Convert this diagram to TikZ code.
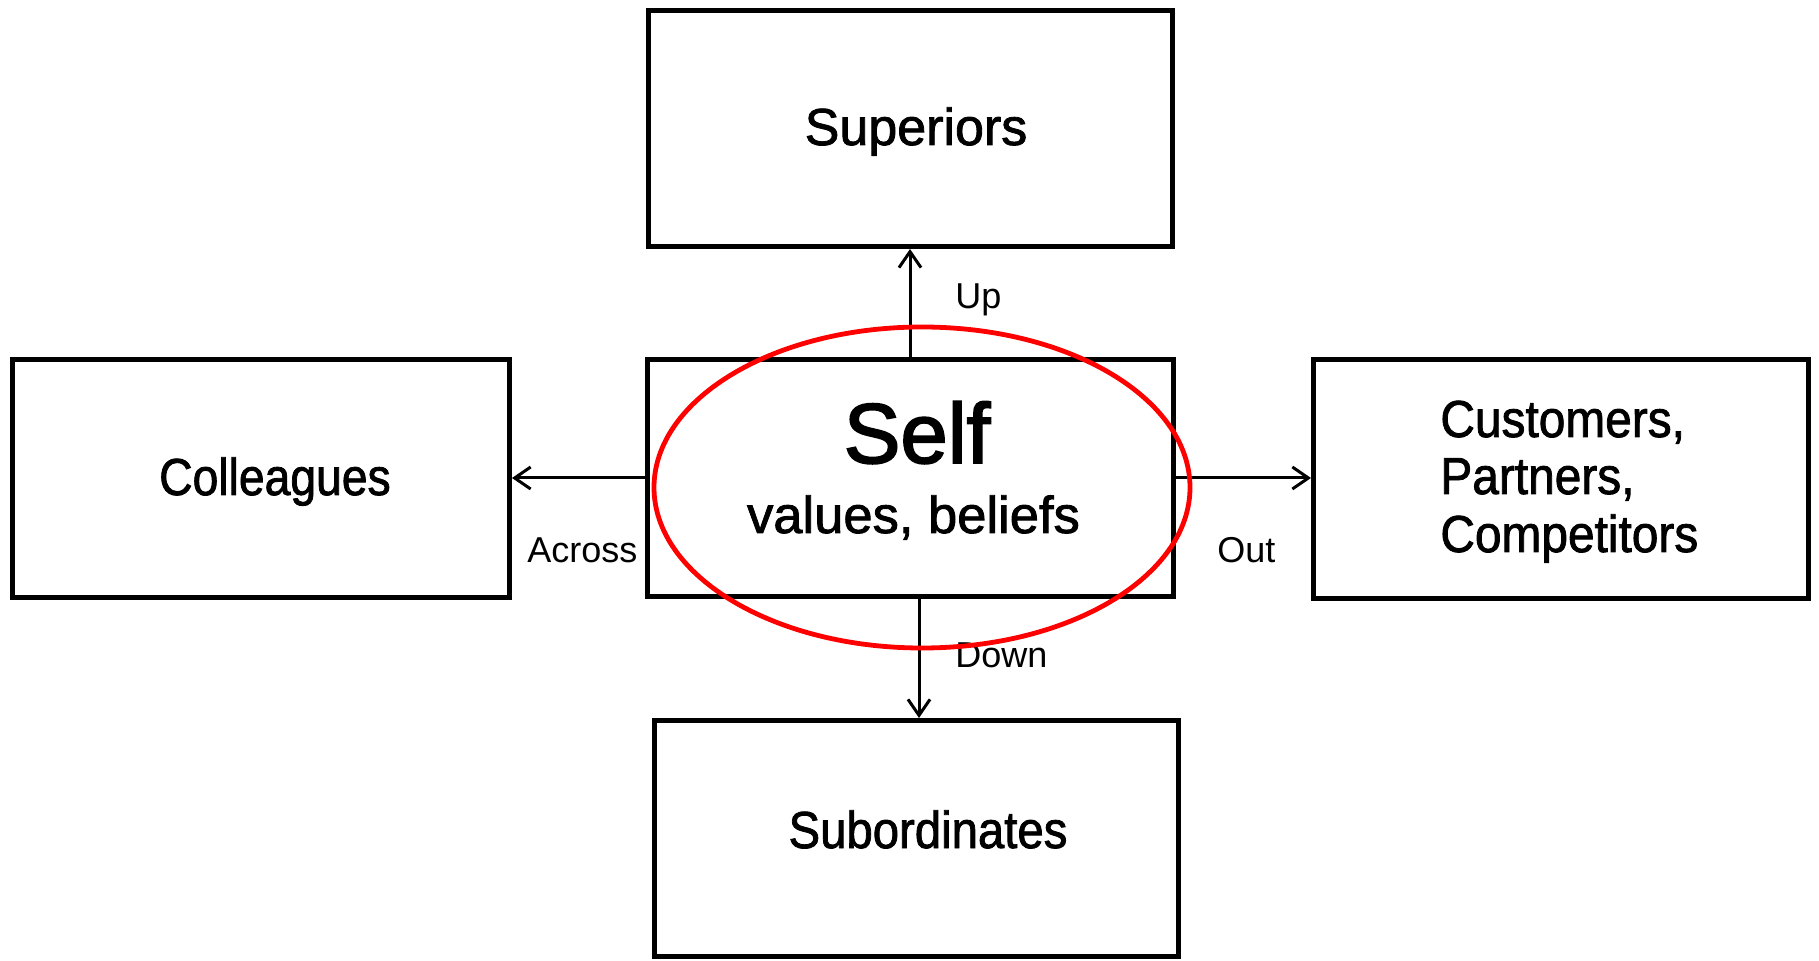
\documentclass[tikz,border=0pt]{standalone}
\usepackage{fontspec}
\setmainfont{Liberation Sans}
\newfontfamily\medfont[FakeBold=1.6]{Liberation Sans}
\newfontfamily\selffont[FakeBold=2.2]{Liberation Sans}
\usetikzlibrary{arrows.meta}
\tikzset{
  box/.style={draw=black, line width=2.4pt, inner sep=0pt, fill=white},
  bigtxt/.style={inner sep=0pt, font=\medfont\fontsize{26}{31}\selectfont},
  selftxt/.style={inner sep=0pt, font=\selffont\fontsize{42.5}{50}\selectfont},
  lbl/.style={inner sep=0pt, anchor=base west, font=\fontsize{18}{22}\selectfont},
  arr/.style={line width=1.5pt, -{Straight Barb[length=8pt,width=11pt]}},
  ring/.style={draw=red, line width=2.4pt}
}
\begin{document}
\begin{tikzpicture}[x=0.5pt, y=-0.5pt]
\useasboundingbox (0,0) rectangle (1819,961);
% boxes
\node[box, minimum width=262.1pt, minimum height=118.1pt] (sup) at (910.5,128.5) {};
\node[box, minimum width=263.1pt, minimum height=118.6pt] (self) at (910.5,478) {};
\node[box, minimum width=248.6pt, minimum height=119.1pt] (col) at (261,478.5) {};
\node[box, minimum width=247.6pt, minimum height=119.6pt] (cust) at (1561,479) {};
\node[box, minimum width=262.1pt, minimum height=118.1pt] (sub) at (916.5,838.5) {};
% texts
\node[bigtxt, anchor=base] (supt) at (916,145) {Superiors};
\node[selftxt, anchor=base] (selft) at (917,463) {Self};
\node[bigtxt, anchor=base] (selfv) at (913.5,533) {\scalebox{1.01}[1]{values, beliefs}};
\node[bigtxt, anchor=base] (colt) at (275,495) {\scalebox{0.89}[1]{Colleagues}};
\node[bigtxt, anchor=base west] (cust1) at (1440,437) {\scalebox{0.92}[1]{Customers,}};
\node[bigtxt, anchor=base west] (cust2) at (1440,494) {\scalebox{0.92}[1]{Partners,}};
\node[bigtxt, anchor=base west] (cust3) at (1440,552) {\scalebox{0.92}[1]{Competitors}};
\node[bigtxt, anchor=base] (subt) at (928,848) {\scalebox{0.91}[1]{Subordinates}};
% connectors
\draw[arr] ([xshift=-0.25pt]self.north) -- ([xshift=-0.25pt]self.north |- sup.south);
\draw[arr] ([xshift=4.25pt]self.south) -- ([xshift=4.25pt]self.south |- sub.north);
\draw[arr] (self.west) -- (self.west -| col.east);
\draw[arr] (self.east) -- (self.east -| cust.west);
% labels
\node[lbl] (up) at (955,309) {Up};
\node[lbl] (down) at (955,668) {Down};
\node[lbl] (across) at (527,563) {Across};
\node[lbl] (out) at (1217,563) {Out};
% red ellipse
\draw[ring] (922,487.5) ellipse [x radius=134pt, y radius=80.25pt];
\end{tikzpicture}
\end{document}
